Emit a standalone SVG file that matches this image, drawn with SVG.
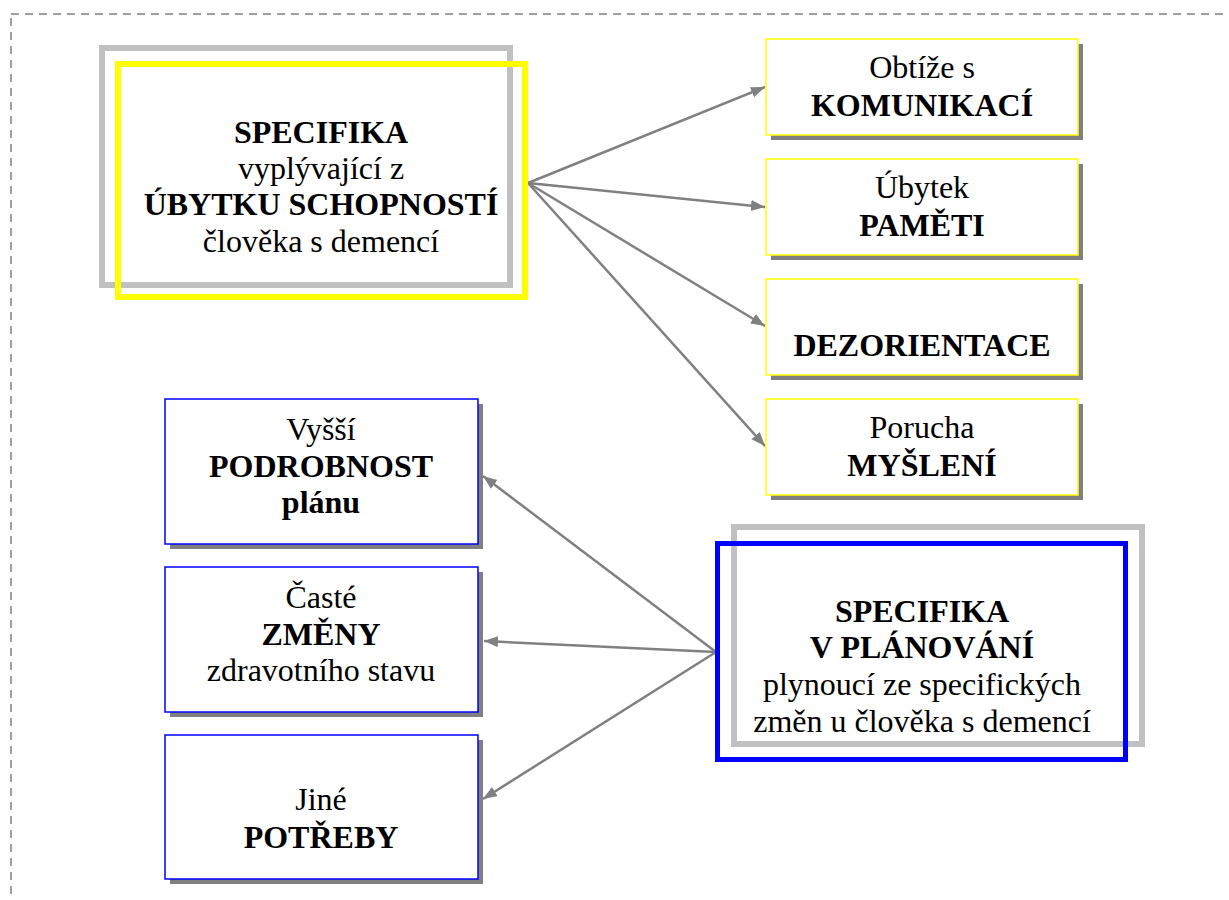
<svg xmlns="http://www.w3.org/2000/svg" width="1229" height="900" viewBox="0 0 1229 900">
  <defs>
    <style>
      .frame { fill: none; stroke: #808080; stroke-width: 1.5; stroke-dasharray: 8 6; }
      .shadow { fill: #808080; stroke: none; }
      .box-y { fill: #ffffff; stroke: #ffff00; stroke-width: 1.5; }
      .box-b { fill: #ffffff; stroke: #0000ff; stroke-width: 1.5; }
      .outer-gray { fill: none; stroke: #c0c0c0; stroke-width: 6; }
      .hub-y { fill: none; stroke: #ffff00; stroke-width: 6; }
      .hub-b { fill: none; stroke: #0000ff; stroke-width: 5; }
      .conn { stroke: #808080; stroke-width: 2.5; fill: none; marker-end: url(#arrow); }
      .lbl { font-family: 'Liberation Serif', 'Times New Roman', serif; font-size: 32px; fill: #000000; text-anchor: middle; }
      .b { font-weight: bold; }
    </style>
    <marker id="arrow" markerUnits="userSpaceOnUse" markerWidth="15" markerHeight="12" refX="14" refY="5.5" orient="auto">
      <path d="M0,0 L14,5.5 L0,11 z" fill="#808080"/>
    </marker>
  </defs>

  <rect width="1229" height="900" fill="#ffffff"/>
  <rect class="frame" x="11" y="14" width="1400" height="1000"/>

  <!-- connectors -->
  <g id="connectors">
    <line class="conn" x1="528" y1="183" x2="765" y2="87"/>
    <line class="conn" x1="528" y1="183" x2="765" y2="207"/>
    <line class="conn" x1="528" y1="183" x2="765" y2="326"/>
    <line class="conn" x1="528" y1="183" x2="765" y2="446"/>
    <line class="conn" x1="716" y1="652" x2="483" y2="476"/>
    <line class="conn" x1="716" y1="652" x2="484" y2="641"/>
    <line class="conn" x1="716" y1="652" x2="483" y2="799"/>
  </g>

  <!-- hub: abilities -->
  <g id="hub-abilities" class="lbl">
    <rect class="outer-gray" x="102" y="48" width="408" height="237"/>
    <rect class="hub-y" x="118" y="64" width="407" height="233"/>
    <text class="b" x="321" y="143">SPECIFIKA</text>
    <text x="321" y="179">vyplývající z</text>
    <text class="b" x="321" y="215">ÚBYTKU SCHOPNOSTÍ</text>
    <text x="321" y="252">člověka s demencí</text>
  </g>

  <!-- right column -->
  <g id="node-komunikace" class="lbl">
    <rect class="shadow" x="771" y="44" width="312" height="96"/>
    <rect class="box-y" x="766" y="39" width="312" height="96"/>
    <text x="922" y="78">Obtíže s</text>
    <text class="b" x="922" y="116">KOMUNIKACÍ</text>
  </g>
  <g id="node-pameti" class="lbl">
    <rect class="shadow" x="771" y="164" width="312" height="96"/>
    <rect class="box-y" x="766" y="159" width="312" height="96"/>
    <text x="922" y="198">Úbytek</text>
    <text class="b" x="922" y="236">PAMĚTI</text>
  </g>
  <g id="node-dezorientace" class="lbl">
    <rect class="shadow" x="771" y="284" width="312" height="96"/>
    <rect class="box-y" x="766" y="279" width="312" height="96"/>
    <text class="b" x="922" y="356">DEZORIENTACE</text>
  </g>
  <g id="node-mysleni" class="lbl">
    <rect class="shadow" x="771" y="404" width="312" height="96"/>
    <rect class="box-y" x="766" y="399" width="312" height="96"/>
    <text x="922" y="438">Porucha</text>
    <text class="b" x="922" y="476">MYŠLENÍ</text>
  </g>

  <!-- hub: planning -->
  <g id="hub-planning" class="lbl">
    <rect class="outer-gray" x="734" y="527" width="408" height="217"/>
    <rect class="hub-b" x="717.5" y="543.5" width="408" height="216"/>
    <text class="b" x="922" y="622">SPECIFIKA</text>
    <text class="b" x="922" y="658">V PLÁNOVÁNÍ</text>
    <text x="922" y="695">plynoucí ze specifických</text>
    <text x="922" y="732">změn u člověka s demencí</text>
  </g>

  <!-- left column -->
  <g id="node-podrobnost" class="lbl">
    <rect class="shadow" x="170" y="404" width="313" height="145"/>
    <rect class="box-b" x="165" y="399" width="313" height="145"/>
    <text x="321" y="440">Vyšší</text>
    <text class="b" x="321" y="477">PODROBNOST</text>
    <text class="b" x="321" y="513">plánu</text>
  </g>
  <g id="node-zmeny" class="lbl">
    <rect class="shadow" x="170" y="572" width="313" height="145"/>
    <rect class="box-b" x="165" y="567" width="313" height="145"/>
    <text x="321" y="608">Časté</text>
    <text class="b" x="321" y="645">ZMĚNY</text>
    <text x="321" y="681">zdravotního stavu</text>
  </g>
  <g id="node-potreby" class="lbl">
    <rect class="shadow" x="170" y="740" width="313" height="144"/>
    <rect class="box-b" x="165" y="735" width="313" height="144"/>
    <text x="321" y="810">Jiné</text>
    <text class="b" x="321" y="848">POTŘEBY</text>
  </g>
</svg>
